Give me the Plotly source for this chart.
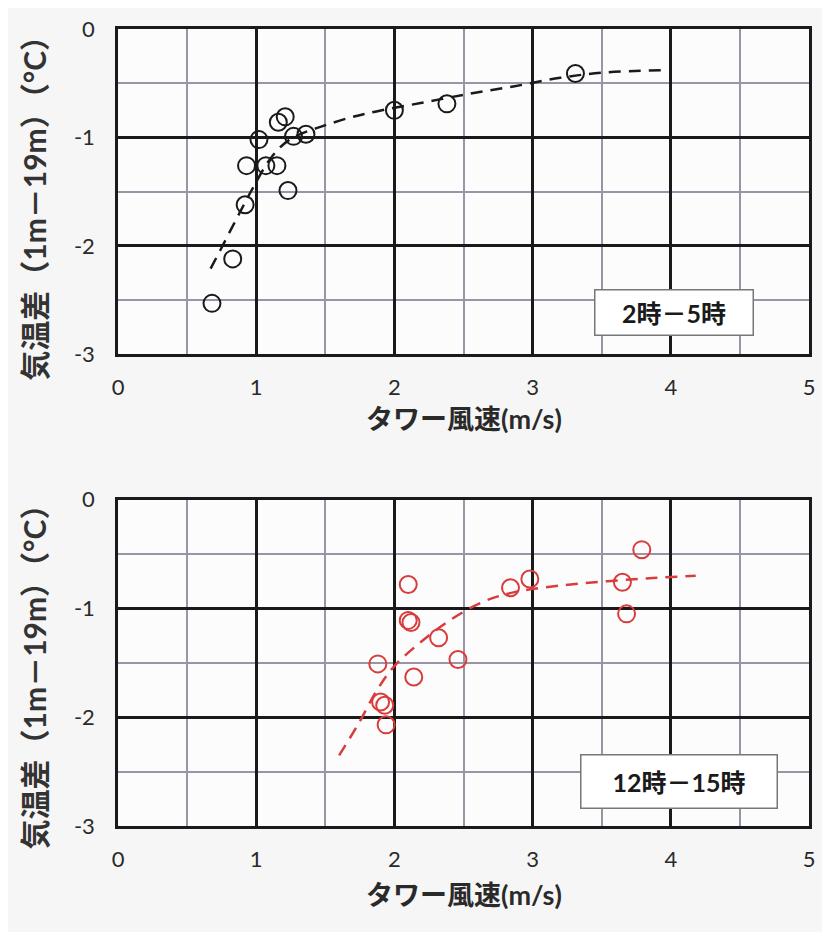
import plotly.graph_objects as go
from plotly.subplots import make_subplots

# ---- data ----
night_label = "2時－5時"
night_wind = [0.68, 0.83, 0.92, 0.93, 1.02, 1.07, 1.15, 1.16, 1.21, 1.23, 1.27, 1.36, 2.00, 2.38, 3.31]
night_dt = [-2.53, -2.12, -1.62, -1.26, -1.02, -1.26, -1.26, -0.86, -0.81, -1.49, -0.99, -0.97, -0.75, -0.69, -0.41]
night_fit_x = [0.67, 0.74, 0.87, 0.97, 1.10, 1.20, 1.30, 1.47, 1.67, 1.87, 2.20, 2.53, 2.86, 3.20, 3.53, 3.96]
night_fit_y = [-2.21, -2.04, -1.72, -1.48, -1.20, -1.06, -0.98, -0.90, -0.82, -0.76, -0.68, -0.60, -0.53, -0.45, -0.40, -0.38]

day_label = "12時－15時"
day_wind = [1.88, 1.90, 1.93, 1.94, 2.10, 2.10, 2.12, 2.14, 2.32, 2.46, 2.84, 2.98, 3.65, 3.68, 3.79]
day_dt = [-1.51, -1.86, -1.89, -2.07, -0.78, -1.11, -1.13, -1.63, -1.27, -1.47, -0.81, -0.73, -0.76, -1.05, -0.46]
day_fit_x = [1.60, 1.74, 1.87, 2.00, 2.20, 2.40, 2.64, 2.87, 3.20, 3.54, 3.87, 4.18]
day_fit_y = [-2.35, -2.06, -1.76, -1.53, -1.30, -1.11, -0.94, -0.85, -0.79, -0.75, -0.72, -0.70]

x_ticks = [0, 1, 2, 3, 4, 5]
y_ticks = [0, -1, -2, -3]
x_title = "タワー風速(m/s)"
y_title = "気温差（1m－19m）（°C）"

BLACK = "#1a1a1a"
RED = "#d93c3c"

fig = make_subplots(rows=2, cols=1, vertical_spacing=0.0)

fig.add_trace(go.Scatter(x=night_fit_x, y=night_fit_y, mode="lines", line=dict(color=BLACK, width=2.5, dash="12px,8px", shape="spline"), showlegend=False), row=1, col=1)
fig.add_trace(go.Scatter(x=night_wind, y=night_dt, mode="markers", marker=dict(symbol="circle-open", size=17, line=dict(color=BLACK, width=2), color=BLACK), showlegend=False), row=1, col=1)
fig.add_trace(go.Scatter(x=day_fit_x, y=day_fit_y, mode="lines", line=dict(color=RED, width=2.5, dash="12px,8px", shape="spline"), showlegend=False), row=2, col=1)
fig.add_trace(go.Scatter(x=day_wind, y=day_dt, mode="markers", marker=dict(symbol="circle-open", size=17, line=dict(color=RED, width=2), color=RED), showlegend=False), row=2, col=1)

tickfont = dict(family="Lato, Open Sans, sans-serif", size=22, color="#2a2a2a")
axis_common = dict(
    showgrid=True, gridcolor=BLACK, gridwidth=2.5,
    showline=True, linecolor=BLACK, linewidth=2.5, mirror=True,
    zeroline=False, ticks="", tickfont=tickfont,
)
for r, dom in [(1, [0.5918, 1.0]), (2, [0.0, 0.4095])]:
    fig.update_xaxes(range=[0, 5], tickvals=x_ticks, ticktext=[str(v) for v in x_ticks],
                     minor=dict(dtick=0.5, tick0=0, showgrid=True, gridcolor="#9a94a6", gridwidth=1.5),
                     ticklabelstandoff=12, **axis_common, row=r, col=1)
    fig.update_yaxes(range=[-3, 0], tickvals=y_ticks, ticktext=[str(v) for v in y_ticks],
                     minor=dict(dtick=0.5, tick0=0, showgrid=True, gridcolor="#9a94a6", gridwidth=1.5),
                     ticklabelstandoff=16, domain=dom, **axis_common, row=r, col=1)

title_font = dict(family="Lato, Noto Sans CJK JP", size=27, color="#2a2a2a", weight="bold")
ytitle_font = dict(family="Lato, Noto Sans CJK JP", size=30, color="#333333", weight="bold")
box_font = dict(family="Lato, Noto Sans CJK JP", size=25, color="#1a1a1a", weight="bold")

annotations = [
    dict(text=x_title, xref="paper", yref="paper", x=0.5, y=0.5119, xanchor="center", yanchor="middle", showarrow=False, font=title_font),
    dict(text=x_title, xref="paper", yref="paper", x=0.5, y=-0.0861, xanchor="center", yanchor="middle", showarrow=False, font=title_font),
    dict(text=y_title, xref="paper", yref="paper", x=-0.121, y=0.785, xanchor="center", yanchor="middle", textangle=-90, showarrow=False, font=ytitle_font),
    dict(text=y_title, xref="paper", yref="paper", x=-0.121, y=0.197, xanchor="center", yanchor="middle", textangle=-90, showarrow=False, font=ytitle_font),
    dict(text=night_label, xref="x", yref="y", x=4.02, y=-2.61, xanchor="center", yanchor="middle", showarrow=False,
         font=box_font, bgcolor="white", bordercolor="#777777", borderwidth=1.5, width=155, height=42),
    dict(text=day_label, xref="x2", yref="y2", x=4.06, y=-2.595, xanchor="center", yanchor="middle", showarrow=False,
         font=box_font, bgcolor="white", bordercolor="#777777", borderwidth=1.5, width=193, height=50),
]

fig.update_layout(
    width=814, height=924,
    margin=dict(l=110, r=7, t=17, b=106),
    paper_bgcolor="#f6f6f6", plot_bgcolor="#fcfcfc",
    annotations=annotations,
    showlegend=False,
)

fig.write_html("out.html")
